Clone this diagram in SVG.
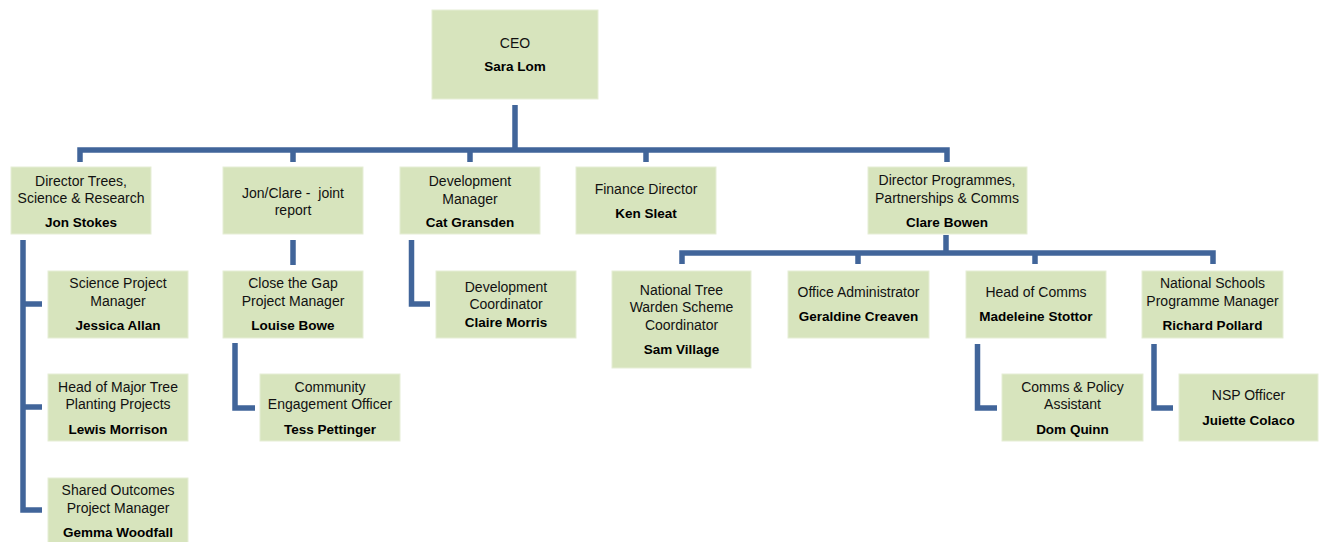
<svg xmlns="http://www.w3.org/2000/svg" width="1320" height="542" viewBox="0 0 1320 542">
<style>
.box{fill:#D7E4BD;stroke:#E6EED6;stroke-width:1}
.t{font-family:"Liberation Sans",Arial,sans-serif;font-size:14px;fill:#111;text-anchor:middle}
.b{font-family:"Liberation Sans",Arial,sans-serif;font-size:13.5px;font-weight:bold;fill:#000;text-anchor:middle}
.pre{white-space:pre}
.c{fill:none;stroke:#41659A;stroke-width:5.5;stroke-linejoin:miter;stroke-linecap:butt}
</style>
<rect width="1320" height="542" fill="#fff"/>
<g id="connectors">
<path class="c" d="M515 105V150"/>
<path class="c" d="M80 162V150H947V162"/>
<path class="c" d="M293 150V162M470 150V162M646 150V162"/>
<path class="c" d="M946 235V253"/>
<path class="c" d="M682 264V253H1213V264"/>
<path class="c" d="M858 253V264M1035 253V264"/>
<path class="c" d="M23 240V510H42M23 304H42M23 407H42"/>
<path class="c" d="M293 240V265"/>
<path class="c" d="M235 343V408H255"/>
<path class="c" d="M411.5 240V304H430"/>
<path class="c" d="M977.5 344V408H997"/>
<path class="c" d="M1154 344V408H1173"/>
</g>
<g id="ceo"><rect class="box" x="432" y="10" width="166" height="89"/><text class="t" x="515" y="48">CEO</text><text class="b" x="515" y="71">Sara Lom</text></g>
<g id="dir-trees"><rect class="box" x="11" y="167" width="140" height="67"/><text class="t" x="81" y="186">Director Trees,</text><text class="t" x="81" y="203">Science &amp; Research</text><text class="b" x="81" y="227">Jon Stokes</text></g>
<g id="jon-clare"><rect class="box" x="223" y="167" width="140" height="67"/><text class="t pre" x="293" y="198" xml:space="preserve">Jon/Clare -  joint</text><text class="t" x="293" y="215">report</text></g>
<g id="dev-manager"><rect class="box" x="400" y="167" width="140" height="67"/><text class="t" x="470" y="186">Development</text><text class="t" x="470" y="204">Manager</text><text class="b" x="470" y="227">Cat Gransden</text></g>
<g id="finance"><rect class="box" x="576" y="167" width="140" height="67"/><text class="t" x="646" y="194">Finance Director</text><text class="b" x="646" y="218">Ken Sleat</text></g>
<g id="dir-programmes"><rect class="box" x="868" y="167" width="159" height="67"/><text class="t" x="947" y="185">Director Programmes,</text><text class="t" x="947" y="203">Partnerships &amp; Comms</text><text class="b" x="947" y="227">Clare Bowen</text></g>
<g id="science-pm"><rect class="box" x="48" y="271" width="140" height="67"/><text class="t" x="118" y="288">Science Project</text><text class="t" x="118" y="306">Manager</text><text class="b" x="118" y="330">Jessica Allan</text></g>
<g id="major-tree"><rect class="box" x="48" y="374" width="140" height="67"/><text class="t" x="118" y="392">Head of Major Tree</text><text class="t" x="118" y="409">Planting Projects</text><text class="b" x="118" y="434">Lewis Morrison</text></g>
<g id="shared-outcomes"><rect class="box" x="48" y="478" width="140" height="68"/><text class="t" x="118" y="495">Shared Outcomes</text><text class="t" x="118" y="513">Project Manager</text><text class="b" x="118" y="537">Gemma Woodfall</text></g>
<g id="close-gap"><rect class="box" x="223" y="271" width="140" height="67"/><text class="t" x="293" y="288">Close the Gap</text><text class="t" x="293" y="306">Project Manager</text><text class="b" x="293" y="330">Louise Bowe</text></g>
<g id="community"><rect class="box" x="260" y="374" width="140" height="67"/><text class="t" x="330" y="392">Community</text><text class="t" x="330" y="409">Engagement Officer</text><text class="b" x="330" y="434">Tess Pettinger</text></g>
<g id="dev-coord"><rect class="box" x="436" y="271" width="140" height="67"/><text class="t" x="506" y="292">Development</text><text class="t" x="506" y="309">Coordinator</text><text class="b" x="506" y="327">Claire Morris</text></g>
<g id="tree-warden"><rect class="box" x="612" y="271" width="139" height="97"/><text class="t" x="681.5" y="295">National Tree</text><text class="t" x="681.5" y="312">Warden Scheme</text><text class="t" x="681.5" y="330">Coordinator</text><text class="b" x="681.5" y="354">Sam Village</text></g>
<g id="office-admin"><rect class="box" x="788" y="271" width="141" height="67"/><text class="t" x="858.5" y="297">Office Administrator</text><text class="b" x="858.5" y="321">Geraldine Creaven</text></g>
<g id="head-comms"><rect class="box" x="966" y="271" width="140" height="67"/><text class="t" x="1036" y="297">Head of Comms</text><text class="b" x="1036" y="321">Madeleine Stottor</text></g>
<g id="schools"><rect class="box" x="1142" y="271" width="141" height="67"/><text class="t" x="1212.5" y="288">National Schools</text><text class="t" x="1212.5" y="306">Programme Manager</text><text class="b" x="1212.5" y="330">Richard Pollard</text></g>
<g id="comms-policy"><rect class="box" x="1002" y="374" width="141" height="67"/><text class="t" x="1072.5" y="392">Comms &amp; Policy</text><text class="t" x="1072.5" y="409">Assistant</text><text class="b" x="1072.5" y="434">Dom Quinn</text></g>
<g id="nsp-officer"><rect class="box" x="1179" y="374" width="139" height="67"/><text class="t" x="1248.5" y="400">NSP Officer</text><text class="b" x="1248.5" y="425">Juiette Colaco</text></g>
</svg>
